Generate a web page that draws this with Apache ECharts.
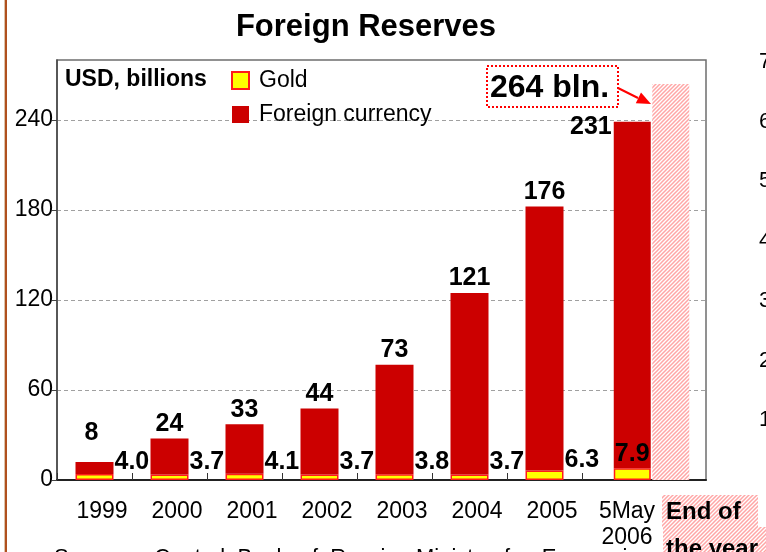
<!DOCTYPE html>
<html>
<head>
<meta charset="utf-8">
<script src="https://cdn.jsdelivr.net/npm/echarts@6/dist/echarts.min.js"></script>
<style>
  html, body { margin: 0; padding: 0; background: #fff; }
  #chart { width: 766px; height: 552px; }
</style>
</head>
<body>
<div id="chart"></div>
<script>
// Russia's foreign reserves, USD billions
const years = ['1999', '2000', '2001', '2002', '2003', '2004', '2005', '5May\n2006'];
const foreignCurrency = [8, 24, 33, 44, 73, 121, 176, 231];
const gold = [4.0, 3.7, 4.1, 3.7, 3.8, 3.7, 6.3, 7.9];
const endOfYearTotal = 264;
const yTickLabels = [0, 60, 120, 180, 240];
const neighbourTicks = ['70', '60', '50', '40', '30', '20', '10'];

const FONT = '"Liberation Sans", Arial, Helvetica, sans-serif';
const GOLD = '#FFFF00', GOLD_EDGE = '#FF1A1A', FX = '#CC0000';
const Y_MAX = 280, Y_STEP = 60;

// diagonal pink hatching used for the year-end estimate
function hatchCanvas() {
  const c = document.createElement('canvas');
  c.width = 4; c.height = 4;
  const g = c.getContext('2d');
  g.fillStyle = '#ffffff';
  g.fillRect(0, 0, 4, 4);
  g.strokeStyle = '#ffa6a6';
  g.lineWidth = 1.5;
  g.beginPath();
  g.moveTo(-1, 5); g.lineTo(5, -1);
  g.moveTo(-1, 1); g.lineTo(1, -1);
  g.moveTo(3, 5); g.lineTo(5, 3);
  g.stroke();
  return c;
}
const HATCH = { image: hatchCanvas(), repeat: 'repeat' };

const valueFont = { fontFamily: FONT, fontWeight: 'bold', fontSize: 25, color: '#000' };
const last = years.length - 1;

// the yearly bars 1999..2005 sit on the main category axis
const yearlyGold = gold.map((v, i) => (i < last ? v : '-'));
const yearlyFx = foreignCurrency.map((v, i) => {
  if (i >= last) return '-';
  if (i === 0) return { value: v, label: { offset: [-3, -14] } };
  return v;
});

const hiddenY = (gridIndex) => ({
  type: 'value', gridIndex, min: 0, max: Y_MAX, interval: Y_STEP, show: false
});

const option = {
  animation: false,
  backgroundColor: '#fff',
  grid: [
    // frame with gridlines
    { left: 57, top: 60, width: 649, height: 420, show: true, borderColor: '#6e6e6e', borderWidth: 1.5, backgroundColor: '#fff' },
    // yearly categories
    { left: 57, top: 60, width: 600, height: 420 },
    // latest date and year-end estimate
    { left: 613, top: 60, width: 77, height: 420 }
  ],
  xAxis: [
    {
      type: 'value', gridIndex: 0, min: 0, max: 1,
      axisLine: { show: true, lineStyle: { color: '#222', width: 2 } },
      axisTick: { show: false }, axisLabel: { show: false }, splitLine: { show: false }
    },
    {
      type: 'category', gridIndex: 1, data: years, boundaryGap: true,
      axisLine: { show: false },
      axisTick: { show: true, inside: true, length: 7, interval: 0, lineStyle: { color: '#333', width: 1 } },
      axisLabel: {
        interval: 0, margin: 19, fontFamily: FONT, fontSize: 23, color: '#000',
        lineHeight: 26, padding: [0, 0, 0, 15]
      }
    },
    {
      type: 'category', gridIndex: 2, data: [years[last], 'End of the year'], show: false
    }
  ],
  yAxis: [
    {
      type: 'value', gridIndex: 0, min: 0, max: Y_MAX, interval: Y_STEP,
      axisLine: { show: true, lineStyle: { color: '#444', width: 1.5 } },
      axisTick: { show: true, inside: false, length: 5, customValues: yTickLabels, lineStyle: { color: '#444' } },
      axisLabel: {
        margin: 4, fontFamily: FONT, fontSize: 23, color: '#000',
        customValues: yTickLabels
      },
      splitLine: { show: true, lineStyle: { color: '#a0a0a0', width: 1, type: [4, 3] } }
    },
    hiddenY(1),
    hiddenY(2)
  ],
  legend: {
    orient: 'vertical', left: 231, top: 69, padding: 0,
    itemWidth: 17, itemHeight: 17, itemGap: 11,
    textStyle: { fontFamily: FONT, fontSize: 23, color: '#000', padding: [0, 0, 0, 5] },
    selectedMode: false,
    data: [
      { name: 'Gold', icon: 'rect', itemStyle: { color: GOLD, borderColor: GOLD_EDGE, borderWidth: 2 } },
      { name: 'Foreign currency', icon: 'rect', itemStyle: { color: FX, borderWidth: 0 } }
    ]
  },
  series: [
    {
      name: 'Gold', type: 'bar', xAxisIndex: 1, yAxisIndex: 1, stack: 'yearly',
      barWidth: 38, data: yearlyGold,
      itemStyle: { color: GOLD, borderColor: GOLD_EDGE, borderWidth: 1.5 },
      label: {
        show: true, position: 'right', distance: 1, offset: [0, -15], ...valueFont,
        formatter: (p) => Number(p.value).toFixed(1)
      }
    },
    {
      name: 'Foreign currency', type: 'bar', xAxisIndex: 1, yAxisIndex: 1, stack: 'yearly',
      barWidth: 38, data: yearlyFx,
      itemStyle: { color: FX },
      label: { show: true, position: 'top', distance: 2, ...valueFont }
    },
    {
      name: 'Gold', type: 'bar', xAxisIndex: 2, yAxisIndex: 2, stack: 'latest',
      barWidth: 37, data: [gold[last], '-'],
      itemStyle: { color: GOLD, borderColor: GOLD_EDGE, borderWidth: 1.5 },
      label: {
        show: true, position: 'top', distance: 2, ...valueFont,
        formatter: (p) => Number(p.value).toFixed(1)
      }
    },
    {
      name: 'Foreign currency', type: 'bar', xAxisIndex: 2, yAxisIndex: 2, stack: 'latest',
      barWidth: 37, data: [foreignCurrency[last], '-'],
      itemStyle: { color: FX },
      label: { show: true, position: [-2, 5], align: 'right', verticalAlign: 'middle', ...valueFont }
    },
    {
      name: 'End of the year', type: 'bar', xAxisIndex: 2, yAxisIndex: 2, stack: 'latest',
      barWidth: 37, data: ['-', endOfYearTotal],
      itemStyle: { color: HATCH }
    }
  ],
  graphic: [
    // slide edge rule
    { type: 'rect', shape: { x: 4, y: 0, width: 1, height: 552 }, style: { fill: '#dcc2aa' }, silent: true },
    { type: 'rect', shape: { x: 5, y: 0, width: 2, height: 552 }, style: { fill: '#b0501e' }, silent: true },
    {
      type: 'text', x: 366, y: 12,
      style: { text: 'Foreign Reserves', fontFamily: FONT, fontWeight: 'bold', fontSize: 31, fill: '#000', align: 'center', verticalAlign: 'top' }
    },
    {
      type: 'text', x: 65, y: 80,
      style: { text: 'USD, billions', fontFamily: FONT, fontWeight: 'bold', fontSize: 23, fill: '#000', verticalAlign: 'middle' }
    },
    // year-end callout
    {
      type: 'rect', shape: { x: 487, y: 66, width: 131, height: 41 },
      style: { fill: '#fff', stroke: '#ff0000', lineWidth: 2, lineDash: [2, 2] }, z: 50
    },
    {
      type: 'text', x: 490, y: 88, z: 51,
      style: { text: endOfYearTotal + ' bln.', fontFamily: FONT, fontWeight: 'bold', fontSize: 32, fill: '#000', verticalAlign: 'middle' }
    },
    {
      type: 'line', shape: { x1: 618, y1: 88, x2: 638, y2: 98 }, z: 50,
      style: { stroke: '#ff0000', lineWidth: 2 }
    },
    {
      type: 'polygon', shape: { points: [[651, 104], [635.8, 103.3], [641, 92.5]] }, z: 50,
      style: { fill: '#ff0000' }
    },
    // category caption for the estimate
    { type: 'rect', shape: { x: 662, y: 495, width: 96, height: 32 }, style: { fill: HATCH } },
    { type: 'rect', shape: { x: 663, y: 527, width: 110, height: 30 }, style: { fill: HATCH } },
    {
      type: 'text', x: 666, y: 512,
      style: { text: 'End of', fontFamily: FONT, fontWeight: 'bold', fontSize: 24, fill: '#000', verticalAlign: 'middle' }
    },
    {
      type: 'text', x: 666, y: 549,
      style: { text: 'the year', fontFamily: FONT, fontWeight: 'bold', fontSize: 24, fill: '#000', verticalAlign: 'middle' }
    },
    // source line
    {
      type: 'text', x: 54, y: 547,
      style: { text: 'Source:    Central  Bank  of  Russia,  Ministry  for  Economic', fontFamily: FONT, fontSize: 22, fill: '#000', verticalAlign: 'top' }
    }
  ].concat(neighbourTicks.map((t, i) => ({
    type: 'text', x: 759, y: 62 + i * 59.7,
    style: { text: t, fontFamily: FONT, fontSize: 22, fill: '#000', verticalAlign: 'middle' }
  })))
};

const chart = echarts.init(document.getElementById('chart'), null, { renderer: 'canvas' });
chart.setOption(option);
</script>
</body>
</html>
